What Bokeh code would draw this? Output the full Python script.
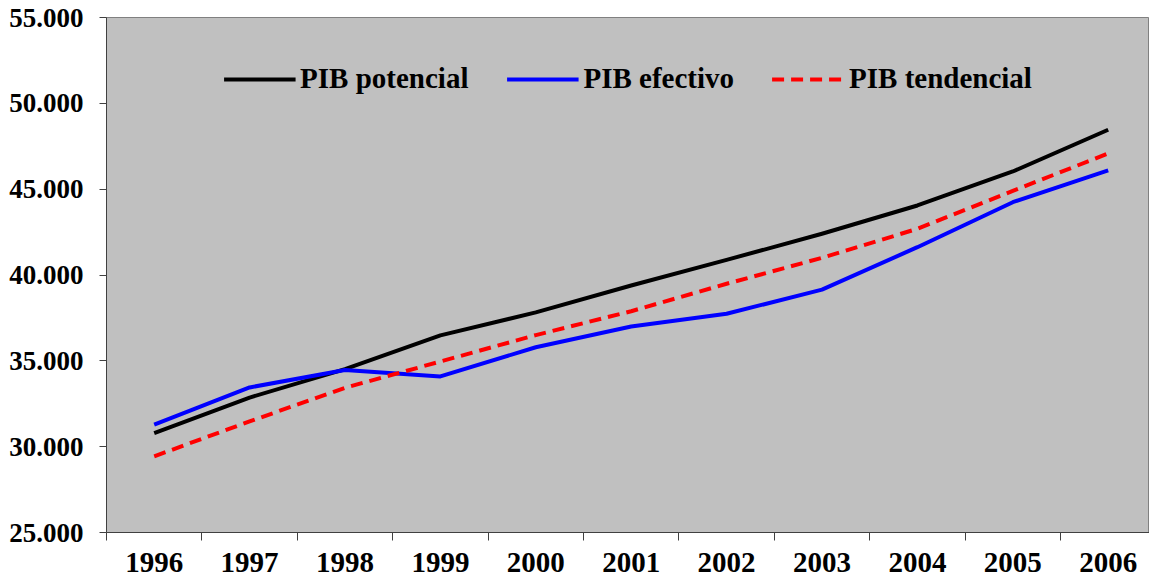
from bokeh.plotting import figure
from bokeh.models import Range1d, FixedTicker, Legend, LegendItem
from bokeh.embed import file_html
from bokeh.resources import INLINE

years = [1996, 1997, 1998, 1999, 2000, 2001, 2002, 2003, 2004, 2005, 2006]
pib_potencial = [30790, 32860, 34520, 36480, 37820, 39390, 40880, 42400, 44050, 46030, 48460]
pib_efectivo = [31290, 33450, 34470, 34090, 35790, 37000, 37740, 39150, 41620, 44240, 46090]
pib_tendencial = [29440, 31470, 33430, 34960, 36500, 37890, 39490, 41000, 42690, 44900, 47080]
y_ticks = [25000, 30000, 35000, 40000, 45000, 50000, 55000]
y_labels = ["25.000", "30.000", "35.000", "40.000", "45.000", "50.000", "55.000"]

FONT = "Liberation Serif"
W, H = 1149, 582
LEFT, TOP, BOTTOM = 106, 17, 50
frame_w = W - LEFT
cat_w = 95.4

p = figure(width=W, height=H, output_backend="svg", toolbar_location=None,
           x_range=Range1d(years[0] - 0.5, years[0] - 0.5 + frame_w / cat_w),
           y_range=Range1d(25000, 55000),
           min_border_left=LEFT, min_border_right=0, min_border_top=TOP, min_border_bottom=BOTTOM)
p.background_fill_color = "#C0C0C0"
p.border_fill_color = "white"
p.outline_line_color = "#808080"
p.xgrid.visible = False
p.ygrid.visible = False

r1 = p.line(years, pib_potencial, line_color="black", line_width=4, line_join="round")
r2 = p.line(years, pib_efectivo, line_color="#0000FF", line_width=4, line_join="round")
r3 = p.line(years, pib_tendencial, line_color="#FF0000", line_width=4, line_dash="12 7")

# y axis
p.yaxis.ticker = FixedTicker(ticks=y_ticks, minor_ticks=[])
p.yaxis.major_label_overrides = {t: l for t, l in zip(y_ticks, y_labels)}
p.yaxis.major_tick_out = 7
p.yaxis.major_tick_in = 0
p.yaxis.minor_tick_out = 0
p.yaxis.minor_tick_in = 0
p.yaxis.major_label_standoff = 16
p.yaxis.axis_line_color = "#404040"
p.yaxis.major_tick_line_color = "#404040"
p.yaxis.major_label_text_font = FONT
p.yaxis.major_label_text_font_style = "bold"
p.yaxis.major_label_text_font_size = "27px"
p.yaxis.major_label_text_color = "black"

# x axis
p.xaxis.ticker = FixedTicker(ticks=years, minor_ticks=[y - 0.5 for y in years] + [years[-1] + 0.5])
p.xaxis.major_label_overrides = {y: str(y) for y in years}
p.xaxis.major_tick_out = 0
p.xaxis.major_tick_in = 0
p.xaxis.minor_tick_out = 8
p.xaxis.minor_tick_in = 0
p.xaxis.minor_tick_line_color = "#404040"
p.xaxis.axis_line_color = "#404040"
p.xaxis.major_label_standoff = 12
p.xaxis.major_label_text_font = FONT
p.xaxis.major_label_text_font_style = "bold"
p.xaxis.major_label_text_font_size = "29px"
p.xaxis.major_label_text_color = "black"

legend = Legend(items=[LegendItem(label="PIB potencial", renderers=[r1]),
                       LegendItem(label="PIB efectivo", renderers=[r2]),
                       LegendItem(label="PIB tendencial", renderers=[r3])],
                orientation="horizontal", location="top_center",
                glyph_width=72, label_standoff=5, spacing=38,
                padding=10, margin=35,
                background_fill_alpha=0, border_line_alpha=0,
                label_text_font=FONT, label_text_font_style="bold",
                label_text_font_size="29px", label_text_color="black")
p.add_layout(legend, "center")

open("out.html", "w").write(file_html(p, INLINE))
